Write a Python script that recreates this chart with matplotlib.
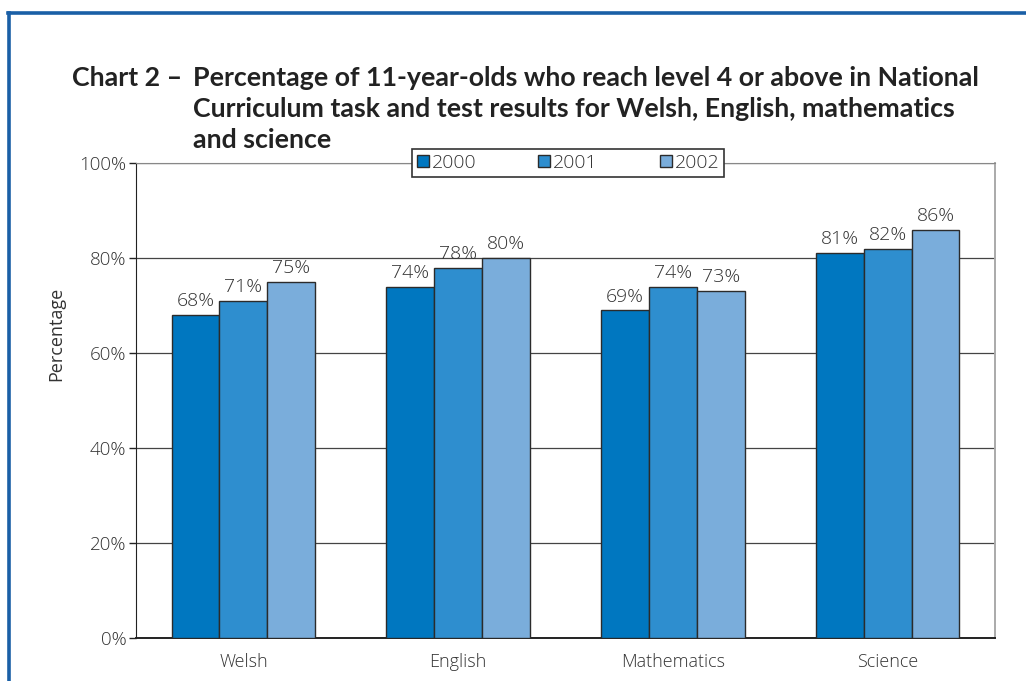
import matplotlib
matplotlib.use('Agg')
import matplotlib.pyplot as plt
import numpy as np

# Key stage 2 results, share of pupils reaching level 4 or above
subjects = ['Welsh', 'English', 'Mathematics', 'Science']
years = ['2000', '2001', '2002']
pct_2000 = [68, 74, 69, 81]
pct_2001 = [71, 78, 74, 82]
pct_2002 = [75, 80, 73, 86]
y_ticks = [0, 20, 40, 60, 80, 100]
title_lines = ['Percentage of 11-year-olds who reach level 4 or above in National',
               'Curriculum task and test results for Welsh, English, mathematics',
               'and science']

bar_colors = ['#0077c0', '#2e8ecf', '#7aaddb']
text_color = '#333333'

plt.rcParams['font.family'] = ['Open Sans', 'DejaVu Sans']
plt.rcParams['font.weight'] = 'light'

fig = plt.figure(figsize=(10.26, 6.81), dpi=100)
fig.patch.set_facecolor('white')

# Blue page frame round the chart
fig.add_artist(plt.Line2D([9 / 1026, 9 / 1026], [0, 1 - 13 / 681],
                          color='#1a5fa6', lw=2.6, transform=fig.transFigure))
fig.add_artist(plt.Line2D([8 / 1026, 1], [1 - 13 / 681, 1 - 13 / 681],
                          color='#1a5fa6', lw=2.6, transform=fig.transFigure))

# Title block, one line at a time
title_font = dict(fontsize=19.3, fontweight='bold', color='#222222',
                  family=['Lato', 'DejaVu Sans'], va='center')
fig.text(72 / 1026, 1 - 78 / 681, 'Chart 2 \u2013', **title_font)
for k, line in enumerate(title_lines):
    fig.text(193 / 1026, 1 - (78 + 31 * k) / 681, line, **title_font)

ax = fig.add_axes([136 / 1026, 1 - 638 / 681, (995 - 136) / 1026, (638 - 163) / 681])

x = np.arange(len(subjects))
width = 0.223
series = [pct_2000, pct_2001, pct_2002]
for i, (vals, yr) in enumerate(zip(series, years)):
    b = ax.bar(x + (i - 1) * width, vals, width, color=bar_colors[i],
               edgecolor='#2b2b2b', linewidth=1.0, label=yr, zorder=3)
    for rect, v in zip(b, vals):
        ax.text(rect.get_x() + rect.get_width() / 2, v + 1.0, '%d%%' % v,
                ha='center', va='bottom', fontsize=14, color=text_color, zorder=4)

ax.set_xlim(-0.5, len(subjects) - 0.5)
ax.set_ylim(0, 100)
ax.set_yticks(y_ticks)
ax.set_yticklabels(['%d%%' % t for t in y_ticks])
ax.set_xticks(x)
ax.set_xticklabels(subjects)
ax.tick_params(axis='y', length=5, width=1, color='#222222', labelsize=13.5,
               labelcolor=text_color, pad=2)
ax.tick_params(axis='x', length=0, labelsize=13, labelcolor=text_color, pad=11)
ax.set_ylabel('Percentage', fontsize=13, color=text_color)
ax.yaxis.set_label_coords(-0.082, 0.64)

ax.yaxis.grid(True, color='#444444', linewidth=0.9, zorder=0)
ax.set_axisbelow(True)
ax.spines['left'].set_color('#222222')
ax.spines['bottom'].set_color('#222222')
ax.spines['bottom'].set_linewidth(1.4)
ax.spines['top'].set_color('#888888')
ax.spines['right'].set_color('#aaaaaa')
ax.spines['right'].set_linewidth(1.4)

leg = ax.legend(loc='center', bbox_to_anchor=(0.503, 1.0), ncol=3, fontsize=14,
                frameon=True, fancybox=False, handlelength=0.6, handleheight=0.6,
                handletextpad=0.15, columnspacing=3.2, borderpad=0.25)
leg.get_frame().set_edgecolor('#333333')
leg.get_frame().set_linewidth(1.2)
leg.get_frame().set_alpha(1)
for t in leg.get_texts():
    t.set_color(text_color)

fig.savefig('out.png', dpi=100, facecolor='white')
